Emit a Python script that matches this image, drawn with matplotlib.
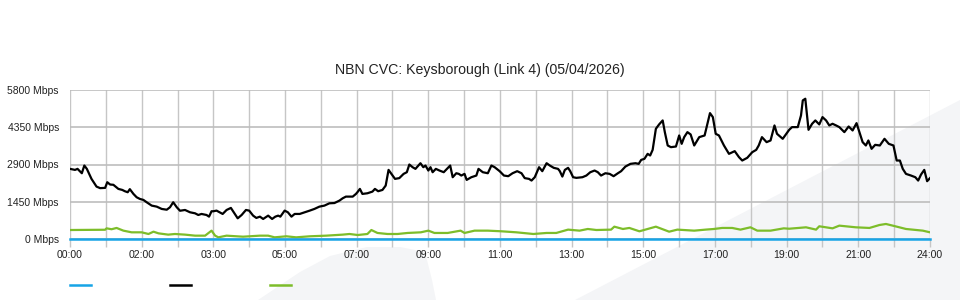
import matplotlib
matplotlib.use("Agg")
import matplotlib.pyplot as plt
from matplotlib.lines import Line2D
from matplotlib.patches import Polygon

plt.rcParams['font.family'] = ['Liberation Sans', 'DejaVu Sans']

# x positions are in hourly grid slots (0..24) of the chart
tick_slots = [0, 2, 4, 6, 8, 10, 12, 14, 16, 18, 20, 22, 24]
tick_labels = ["00:00", "02:00", "03:00", "05:00", "07:00", "09:00", "11:00",
               "13:00", "15:00", "17:00", "19:00", "21:00", "24:00"]
y_ticks = [0, 1450, 2900, 4350, 5800]

black_x = [0.00, 0.14, 0.21, 0.33, 0.40, 0.47, 0.60, 0.74, 0.84, 0.98, 1.04, 1.12, 1.21, 1.35,
           1.46, 1.53, 1.61, 1.67, 1.77, 1.86, 1.95, 2.05, 2.14, 2.28, 2.42, 2.56, 2.70, 2.79,
           2.88, 2.98, 3.07, 3.21, 3.35, 3.49, 3.58, 3.67, 3.81, 3.88, 3.95, 4.00, 4.09, 4.26,
           4.37, 4.49, 4.57, 4.68, 4.79, 4.91, 5.00, 5.11, 5.20, 5.30, 5.39, 5.53, 5.64, 5.73,
           5.81, 5.87, 5.99, 6.08, 6.18, 6.27, 6.41, 6.55, 6.69, 6.82, 6.96, 7.10, 7.24, 7.38,
           7.52, 7.61, 7.70, 7.89, 7.98, 8.02, 8.09, 8.16, 8.30, 8.44, 8.51, 8.60, 8.72, 8.81,
           8.89, 8.97, 9.07, 9.19, 9.31, 9.40, 9.47, 9.56, 9.64, 9.78, 9.86, 9.92, 10.00, 10.06,
           10.12, 10.21, 10.31, 10.43, 10.52, 10.61, 10.68, 10.78, 10.85, 10.92, 11.01, 11.07,
           11.20, 11.34, 11.40, 11.52, 11.66, 11.76, 11.85, 11.99, 12.11, 12.23, 12.35, 12.48,
           12.60, 12.69, 12.81, 12.88, 12.97, 13.09, 13.18, 13.30, 13.39, 13.50, 13.62, 13.67,
           13.74, 13.81, 13.90, 13.96, 14.04, 14.13, 14.30, 14.41, 14.52, 14.64, 14.73, 14.82,
           14.94, 15.06, 15.17, 15.29, 15.38, 15.50, 15.64, 15.78, 15.87, 15.94, 16.03, 16.12,
           16.19, 16.26, 16.35, 16.44, 16.54, 16.60, 16.68, 16.77, 16.91, 17.00, 17.07, 17.14,
           17.23, 17.32, 17.42, 17.56, 17.71, 17.79, 17.86, 17.94, 18.02, 18.11, 18.25, 18.39,
           18.55, 18.67, 18.76, 18.90, 19.04, 19.15, 19.22, 19.31, 19.44, 19.55, 19.66, 19.73,
           19.89, 19.99, 20.07, 20.15, 20.31, 20.40, 20.45, 20.52, 20.61, 20.71, 20.80, 20.91,
           21.00, 21.10, 21.19, 21.28, 21.38, 21.47, 21.61, 21.73, 21.84, 21.95, 22.03, 22.12,
           22.21, 22.28, 22.37, 22.47, 22.60, 22.73, 22.85, 22.98, 23.07, 23.16, 23.24, 23.33,
           23.47, 23.59, 23.67, 23.75, 23.84, 23.92, 24.00]
black_y = [2730, 2690, 2730, 2560, 2860, 2730, 2340, 2040, 1980, 1990, 2210, 2120, 2110, 1950,
           1910, 1860, 1820, 1940, 1755, 1625, 1560, 1520, 1430, 1300, 1260, 1170, 1140, 1235,
           1430, 1235, 1100, 1130, 1040, 1000, 935, 975, 935, 870, 1080, 1080, 1105, 975,
           1130, 1210, 1040, 805, 935, 1130, 1105, 910, 820, 870, 780, 910, 780, 870,
           910, 870, 1105, 1040, 870, 975, 975, 1040, 1105, 1170, 1260, 1300, 1390, 1400,
           1495, 1585, 1650, 1650, 1755, 1820, 1950, 1755, 1780, 1845, 1950, 1860, 1910, 2080,
           2690, 2535, 2340, 2370, 2535, 2600, 2900, 2795, 2730, 2950, 2795, 2860, 2665, 2795,
           2600, 2730, 2665, 2600, 2730, 2860, 2405, 2560, 2535, 2470, 2535, 2300,
           2405, 2470, 2730, 2600, 2560, 2860, 2795, 2640, 2470, 2445, 2560, 2640,
           2560, 2370, 2340, 2275, 2405, 2795, 2640, 2950, 2860, 2770, 2730, 2640,
           2430, 2690, 2770, 2640, 2405, 2380, 2405, 2470, 2600, 2665, 2600, 2470,
           2560, 2535, 2445, 2560, 2640, 2820, 2925, 2950, 2925, 3080, 3120, 3315,
           3250, 3470, 4290, 4460, 4615, 4160, 3640, 3575, 3600, 4030, 3705, 3965,
           4160, 4070, 3640, 3965, 4030, 4485, 4900, 4745, 4095, 4030, 3640, 3315,
           3420, 3185, 3055, 3160, 3380, 3470, 3640, 3965, 3770, 3835, 4420, 4095,
           3900, 4095, 4250, 4355, 4355, 4810, 5395, 5460, 4250, 4485, 4615, 4460,
           4745, 4615, 4420, 4485, 4420, 4355, 4160, 4380, 4225, 4510, 4160, 3770,
           3640, 3835, 3510, 3665, 3640, 3900, 3705, 3640, 3055, 3055, 2730, 2535,
           2470, 2405, 2275, 2510, 2690, 2250, 2370]

green_x = [0.00, 0.98, 1.02, 1.16, 1.30, 1.49, 1.72, 2.00, 2.19, 2.33, 2.47, 2.74, 2.93, 3.21,
           3.49, 3.77, 3.95, 4.05, 4.14, 4.37, 4.65, 4.83, 5.30, 5.53, 5.71, 6.04, 6.31, 6.69,
           7.15, 7.61, 7.80, 8.03, 8.30, 8.41, 8.58, 8.86, 9.14, 9.42, 9.79, 10.00, 10.17,
           10.54, 10.90, 11.01, 11.29, 11.66, 12.04, 12.46, 12.93, 13.30, 13.57, 13.90, 14.22,
           14.45, 14.69, 15.10, 15.19, 15.43, 15.61, 15.89, 16.12, 16.35, 16.72, 16.95, 17.42,
           17.74, 17.97, 18.20, 18.48, 18.71, 18.99, 19.18, 19.55, 19.92, 20.07, 20.54, 20.82,
           20.91, 21.28, 21.47, 21.93, 22.31, 22.59, 22.77, 22.96, 23.33, 23.80, 24.00]
green_y = [350, 360, 415, 380, 430, 325, 260, 260, 195, 285, 220, 170, 195, 170,
           130, 130, 325, 130, 65, 130, 105, 90, 130, 130, 65, 105, 65, 105,
           130, 170, 195, 155, 195, 350, 235, 195, 195, 235, 260, 325, 235,
           235, 325, 235, 325, 325, 300, 260, 195, 235, 235, 365, 325,
           390, 350, 365, 480, 390, 430, 300, 390, 480, 285, 365, 325,
           365, 390, 430, 430, 365, 455, 325, 325, 415, 400, 455, 365,
           495, 415, 520, 455, 430, 545, 585, 520, 390, 325, 260]

blue_x = [0, 24]
blue_y = [0, 0]

fig = plt.figure(figsize=(9.6, 3.0), dpi=100)

# faint watermark shapes behind the chart
W, H = 960.0, 300.0
blob = [(258, 300), (300, 272), (330, 256), (367, 247), (400, 247), (425, 252), (432, 280), (436, 300)]
wedge = [(575, 300), (960, 100), (960, 300)]
for shape in (blob, wedge):
    pts = [(px / W, 1 - py / H) for px, py in shape]
    fig.patches.append(Polygon(pts, closed=True, transform=fig.transFigure,
                               facecolor='#f4f5f7', edgecolor='none', zorder=-10))

ax = fig.add_axes([70 / W, 1 - 239 / H, 860 / W, 149 / H])
ax.set_facecolor('none')

ax.plot(green_x, green_y, color='#7dbd2a', lw=1.6, zorder=3)
ax.plot(black_x, black_y, color='black', lw=1.6, zorder=4)
ax.plot(blue_x, blue_y, color='#17a4e6', lw=1.8, zorder=5, clip_on=False)

ax.set_xlim(0, 24)
ax.set_ylim(0, 5800)
ax.set_xticks(range(25))
ax.set_xticklabels([tick_labels[tick_slots.index(i)] if i in tick_slots else '' for i in range(25)])
ax.set_yticks(y_ticks)
ax.set_yticklabels([f"{v} Mbps" for v in y_ticks])
ax.grid(True, axis='x', color='#c6c6c6', lw=1.0)
ax.grid(True, axis='y', color='#bdbdbd', lw=1.2)
ax.tick_params(axis='x', length=6, color='#c6c6c6', width=1.0, pad=2, labelsize=7.6, labelcolor='#222222')
ax.tick_params(axis='y', length=0, pad=8, labelsize=7.5, labelcolor='#222222')
for s in ax.spines.values():
    s.set_visible(False)

fig.text(0.5, 1 - 70 / H, "NBN CVC: Keysborough (Link 4) (05/04/2026)",
         ha='center', va='center', fontsize=10.2, color='#222222')

# legend swatches (no labels in the original)
for x0, col in ((70, '#17a4e6'), (170, 'black'), (270, '#7dbd2a')):
    fig.add_artist(Line2D([x0 / W, (x0 + 21) / W], [1 - 285 / H, 1 - 285 / H],
                          transform=fig.transFigure, color=col, lw=1.8))

fig.savefig("out.png", dpi=100)
